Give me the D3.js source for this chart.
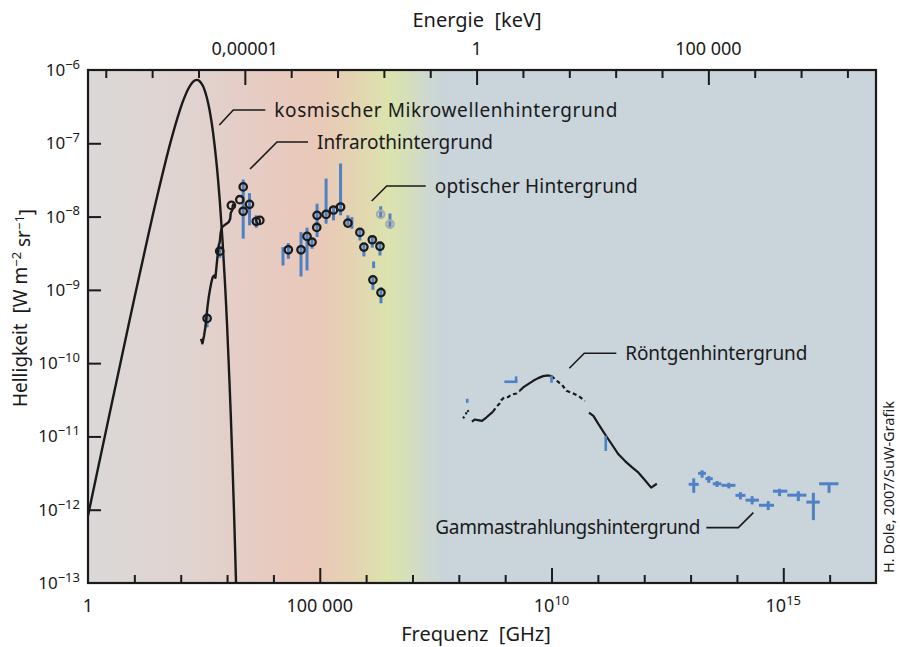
<!DOCTYPE html>
<html><head><meta charset="utf-8">
<script src="https://cdn.jsdelivr.net/npm/d3@7"></script>
<style>
body{margin:0;background:#fff}
text{font-family:"Noto Sans","Open Sans",sans-serif;fill:#1a1a1a}
</style>
</head><body>
<svg id="chart" width="900" height="647"></svg>
<script>
// ---------------- DATA ----------------
// Cosmic microwave background
const cmbFreq   = [1,2,3,5,10,20,30,60,100,120,150,175,200,225,250,300,350,400,450,500,600,700,800,900,1000,1200,1400,1550,1570];
const cmbBright = [8.30e-13,6.58e-12,2.20e-11,1.00e-10,7.66e-10,5.59e-9,1.72e-8,1.02e-7,3.06e-7,4.20e-7,5.73e-7,6.65e-7,7.19e-7,7.34e-7,7.15e-7,6.10e-7,4.67e-7,3.30e-7,2.19e-7,1.385e-7,4.94e-8,1.57e-8,4.61e-9,1.27e-9,3.34e-10,2.04e-11,1.12e-12,1.2e-13,8.9e-14];

// Infrared: continuous spectrum line
const irLineFreq   = [275,294,319,340,358,377,402,431,459,490,526,561,590,620,661,695,731,783,923,1090,1170,1200,1290,1330,1380];
const irLineBright = [2.14e-10,1.86e-10,2.37e-10,3.08e-10,4.22e-10,5.78e-10,7.92e-10,1.03e-9,1.27e-9,1.49e-9,1.57e-9,1.46e-9,2.04e-9,2.79e-9,4.04e-9,4.48e-9,6.14e-9,7.18e-9,7.82e-9,8.41e-9,9.35e-9,1.12e-8,1.22e-8,1.42e-8,1.50e-8];

// Infrared / optical measurements (null = no marker / no bar)
const irFreq   = [3.71e2,6.95e2,1.24e3,1.88e3,2.23e3,2.23e3,3.05e3,4.27e3,5.10e3,1.61e4,2.10e4,3.94e4,5.31e4,6.81e4,8.61e4,8.75e4,1.37e5,1.98e5,2.81e5,4.04e5,4.93e5,7.34e5,8.95e5,1.36e6,1.45e6,1.40e6,1.99e6,2.09e6];
const irBright = [4.08e-10,3.37e-9,1.42e-8,1.70e-8,2.54e-8,1.18e-8,1.47e-8,8.59e-9,8.87e-9,null,3.52e-9,3.52e-9,5.36e-9,4.48e-9,7.11e-9,1.04e-8,1.07e-8,1.23e-8,1.35e-8,8.15e-9,null,6.08e-9,3.83e-9,4.83e-9,null,1.37e-9,3.94e-9,9.18e-10];
const irLow    = [3.08e-10,2.74e-9,null,null,4.99e-9,null,7.59e-9,7.05e-9,null,2.15e-9,2.65e-9,1.52e-9,1.84e-9,3.64e-9,null,5.25e-9,8.00e-9,8.87e-9,1.04e-8,7.59e-9,6.82e-9,4.72e-9,2.86e-9,3.76e-9,1.98e-9,1.00e-9,2.94e-9,6.56e-10];
const irHigh   = [4.74e-10,3.91e-9,null,null,3.20e-8,null,2.09e-8,1.04e-8,null,3.83e-9,4.34e-9,6.14e-9,7.05e-9,4.99e-9,null,1.50e-8,3.30e-8,1.35e-8,5.30e-8,1.04e-8,9.84e-9,6.82e-9,4.26e-9,5.53e-9,2.44e-9,1.49e-9,4.48e-9,1.09e-9];

// Optical (grey markers)
const optFreq   = [2.06e6,3.27e6];
const optBright = [1.07e-8,7.89e-9];
const optLow    = [9.84e-9,6.82e-9];
const optHigh   = [1.38e-8,1.10e-8];

// X-ray background spectrum, pieces (solid / dashed)
const xraySegStyle = ["dot","solid","dash","solid","dash","solid"];
const xraySegFreq = [
  [1.23e8,1.38e8,1.52e8,1.71e8],
  [1.92e8,2.19e8,2.59e8,3.16e8,3.92e8,5.47e8],
  [5.47e8,6.46e8,7.60e8,8.28e8,9.46e8,1.19e9,1.32e9,1.75e9,2.06e9],
  [2.06e9,2.44e9,3.13e9,4.02e9,5.15e9,6.61e9,8.49e9,1.00e10],
  [1.00e10,1.18e10,1.44e10,1.64e10,2.11e10,2.95e10,3.78e10,5.26e10],
  [6.41e10,8.00e10,1.03e11,1.43e11,1.99e11,2.78e11,3.86e11,5.40e11,7.53e11,1.04e12,1.41e12,1.87e12]
];
const xraySegBright = [
  [1.77e-11,1.91e-11,2.30e-11,2.05e-11],
  [1.59e-11,1.70e-11,1.67e-11,1.63e-11,1.81e-11,2.18e-11],
  [2.18e-11,2.54e-11,2.81e-11,3.13e-11,3.40e-11,3.47e-11,3.70e-11,3.85e-11,4.19e-11],
  [4.19e-11,4.66e-11,5.18e-11,5.74e-11,6.25e-11,6.65e-11,6.79e-11,6.65e-11],
  [6.65e-11,6.05e-11,5.45e-11,5.18e-11,4.19e-11,3.85e-11,3.58e-11,3.06e-11],
  [2.12e-11,1.91e-11,1.47e-11,1.07e-11,7.82e-12,5.70e-12,4.61e-12,3.82e-12,3.20e-12,2.52e-12,2.00e-12,2.26e-12]
];
// X-ray error bars (blue)
const xrayBarFreq = [1.52e8,1.72e9,1.00e10,1.48e11];
const xrayBarLow  = [2.87e-11,5.57e-11,5.40e-11,6.34e-12];
const xrayBarHigh = [3.26e-11,6.60e-11,6.73e-11,1.02e-11];
const xrayHBarFreqLo = [9.62e8];
const xrayHBarFreqHi = [1.84e9];
const xrayHBarBright = [5.57e-11];

// Gamma-ray background (crosses)
const gammaFreq   = [1.17e13,1.77e13,2.47e13,3.72e13,6.68e13,1.19e14,2.13e14,4.73e14,8.32e14,2.11e15,4.46e15,9.71e15];
const gammaBright = [2.22e-12,3.14e-12,2.65e-12,2.26e-12,2.15e-12,1.57e-12,1.35e-12,1.15e-12,1.79e-12,1.58e-12,1.27e-12,2.26e-12];
const gammaFreqLo = [9.09e12,1.45e13,2.08e13,3.01e13,4.62e13,9.29e13,1.53e14,2.98e14,5.98e14,1.22e15,3.15e15,5.93e15];
const gammaFreqHi = [1.50e13,2.15e13,3.01e13,4.62e13,9.29e13,1.53e14,2.98e14,6.30e14,1.22e15,3.15e15,6.11e15,1.55e16];
const gammaLo     = [1.70e-12,2.73e-12,2.33e-12,2.04e-12,1.95e-12,1.38e-12,1.18e-12,9.89e-13,1.53e-12,1.31e-12,7.21e-13,1.70e-12];
const gammaHi     = [2.68e-12,3.45e-12,2.88e-12,2.46e-12,2.33e-12,1.74e-12,1.53e-12,1.31e-12,1.93e-12,1.79e-12,1.70e-12,2.26e-12];

// Annotations (anchor point in data units)
const annLabels = ["kosmischer Mikrowellenhintergrund","Infrarothintergrund","optischer Hintergrund","Röntgenhintergrund","Gammastrahlungshintergrund"];
const annFreq   = [6.81e2,3.13e3,1.32e6,2.42e10,2.26e14];
const annBright = [1.78e-7,4.46e-8,1.63e-8,8.51e-11,9.12e-13];

// Axis ticks / labels
const yTickValues = [1e-6,1e-7,1e-8,1e-9,1e-10,1e-11,1e-12,1e-13];
const yTickExp    = ["−6","−7","−8","−9","−10","−11","−12","−13"];
const freqMinorTicks = [1e1,1e2,1e3,1e4,1e6,1e7,1e8,1e9,1e11,1e12,1e13,1e14,1e16];
const freqMajorTicks = [1,1e5,1e10,1e15];
const freqTickBase = ["1","100 000","10","10"];
const freqTickExp  = ["","","10","15"];
const energyMinorTicks = [1e-8,1e-7,1e-6,1e-4,1e-3,1e-2,1e-1,1e1,1e2,1e3,1e4,1e6,1e7,1e8];
const energyMajorTicks = [1e-5,1,1e5];
const energyTickLabels = ["0,00001","1","100 000"];
const keVperGHz = 4.1357e-9; // h in keV per GHz

// ---------------- LAYOUT ----------------
const L=88, R=876, T=70, B=583;
const svg = d3.select("#chart");
const x  = d3.scaleLog().domain([1,1e17]).range([L,R]);
const y  = d3.scaleLog().domain([1e-13,1e-6]).range([B,T]);
const xE = d3.scaleLog().domain([1*keVperGHz,1e17*keVperGHz]).range([L,R]);

const defs = svg.append("defs");
const grad = defs.append("linearGradient").attr("id","bg").attr("gradientUnits","userSpaceOnUse")
  .attr("x1",L).attr("x2",R).attr("y1",0).attr("y2",0);
const stops = [[88,"#dbd8d8"],[190,"#e0d3d0"],[280,"#e8cabf"],[320,"#e9c9b8"],[350,"#e5d2b3"],[388,"#dbe3ae"],[408,"#d5dfba"],[430,"#cdd7d2"],[448,"#c9d4db"],[876,"#c9d4db"]];
stops.forEach(s=>grad.append("stop").attr("offset",((s[0]-L)/(R-L))).attr("stop-color",s[1]));
defs.append("clipPath").attr("id","clip").append("rect").attr("x",L).attr("y",T).attr("width",R-L).attr("height",B-T);

svg.append("rect").attr("x",L).attr("y",T).attr("width",R-L).attr("height",B-T).attr("fill","url(#bg)");

const g = svg.append("g").attr("clip-path","url(#clip)");
const blue = "#4f82c4", ink = "#1a1a1a";

const line = d3.line().x(d=>x(d[0])).y(d=>y(d[1]));

// CMB
g.append("path").datum(d3.zip(cmbFreq,cmbBright)).attr("d",line.curve(d3.curveCatmullRom))
  .attr("fill","none").attr("stroke",ink).attr("stroke-width",2.4);
line.curve(d3.curveLinear);

// IR error bars
const irBars = d3.range(irFreq.length).filter(i=>irLow[i]!=null);
g.selectAll(".irbar").data(irBars).join("line")
  .attr("x1",i=>x(irFreq[i])).attr("x2",i=>x(irFreq[i]))
  .attr("y1",i=>y(irLow[i])).attr("y2",i=>y(irHigh[i]))
  .attr("stroke",blue).attr("stroke-width",3);
g.selectAll(".optbar").data(d3.range(optFreq.length)).join("line")
  .attr("x1",i=>x(optFreq[i])).attr("x2",i=>x(optFreq[i]))
  .attr("y1",i=>y(optLow[i])).attr("y2",i=>y(optHigh[i]))
  .attr("stroke",blue).attr("stroke-width",3);

// IR spectrum line
g.append("path").datum(d3.zip(irLineFreq,irLineBright)).attr("d",line)
  .attr("fill","none").attr("stroke",ink).attr("stroke-width",2.4).attr("stroke-linejoin","round");

// IR markers
const irPts = d3.range(irFreq.length).filter(i=>irBright[i]!=null);
g.selectAll(".irpt").data(irPts).join("circle")
  .attr("cx",i=>x(irFreq[i])).attr("cy",i=>y(irBright[i])).attr("r",3.7)
  .attr("fill","none").attr("stroke",ink).attr("stroke-width",2.3);
g.selectAll(".optpt").data(d3.range(optFreq.length)).join("circle")
  .attr("cx",i=>x(optFreq[i])).attr("cy",i=>y(optBright[i])).attr("r",3.7)
  .attr("fill","none").attr("stroke","#a8abad").attr("stroke-width",2.3);

// X-ray
const dashes = {solid:null, dash:"4,3", dot:"2,3"};
xraySegFreq.forEach((fs,k)=>{
  g.append("path").datum(d3.zip(fs,xraySegBright[k])).attr("d",line)
    .attr("fill","none").attr("stroke",ink).attr("stroke-width",2.2)
    .attr("stroke-linejoin","round").attr("stroke-dasharray",dashes[xraySegStyle[k]]);
});
g.selectAll(".xbar").data(d3.range(xrayBarFreq.length)).join("line")
  .attr("x1",i=>x(xrayBarFreq[i])).attr("x2",i=>x(xrayBarFreq[i]))
  .attr("y1",i=>y(xrayBarLow[i])).attr("y2",i=>y(xrayBarHigh[i]))
  .attr("stroke",blue).attr("stroke-width",2.6);
g.selectAll(".xhbar").data(d3.range(xrayHBarFreqLo.length)).join("line")
  .attr("x1",i=>x(xrayHBarFreqLo[i])).attr("x2",i=>x(xrayHBarFreqHi[i]))
  .attr("y1",i=>y(xrayHBarBright[i])).attr("y2",i=>y(xrayHBarBright[i]))
  .attr("stroke",blue).attr("stroke-width",2.6);

// Gamma crosses
const gi = d3.range(gammaFreq.length);
g.selectAll(".gh").data(gi).join("line")
  .attr("x1",i=>x(gammaFreqLo[i])).attr("x2",i=>x(gammaFreqHi[i]))
  .attr("y1",i=>y(gammaBright[i])).attr("y2",i=>y(gammaBright[i]))
  .attr("stroke",blue).attr("stroke-width",3);
g.selectAll(".gv").data(gi).join("line")
  .attr("x1",i=>x(gammaFreq[i])).attr("x2",i=>x(gammaFreq[i]))
  .attr("y1",i=>y(gammaLo[i])).attr("y2",i=>y(gammaHi[i]))
  .attr("stroke",blue).attr("stroke-width",3);

// Annotations
const annLayout = [
  {dx1:14,dy1:-15,dx2:46,tx:55,anchor:"start",w:343},
  {dx1:27,dy1:-27,dx2:58,tx:67,anchor:"start",w:176},
  {dx1:15,dy1:-15,dx2:54,tx:63,anchor:"start",w:203},
  {dx1:15,dy1:-15,dx2:47,tx:56,anchor:"start",w:182},
  {dx1:-15,dy1:15,dx2:-47,tx:-53,anchor:"end",w:265}
];
annLabels.forEach((t,i)=>{
  const px=x(annFreq[i]), py=y(annBright[i]), a=annLayout[i];
  svg.append("path").attr("d",`M${px},${py}L${px+a.dx1},${py+a.dy1}L${px+a.dx2},${py+a.dy1}`)
    .attr("fill","none").attr("stroke",ink).attr("stroke-width",1.6);
  svg.append("text").attr("x",px+a.tx).attr("y",py+a.dy1).attr("dy","0.35em")
    .attr("text-anchor",a.anchor).attr("font-size",19)
    .attr("textLength",a.w).attr("lengthAdjust","spacing").text(t);
});

// Axes: ticks
function ticks(sel, axis){ sel.call(axis); sel.select(".domain").remove(); sel.selectAll(".tick line").attr("stroke",ink).attr("stroke-width",2); sel.selectAll(".tick text").remove(); }
ticks(svg.append("g").attr("transform",`translate(0,${B})`), d3.axisBottom(x).tickValues(freqMinorTicks).tickSizeInner(-8).tickSizeOuter(0));
ticks(svg.append("g").attr("transform",`translate(0,${B})`), d3.axisBottom(x).tickValues(freqMajorTicks.slice(1)).tickSizeInner(-15).tickSizeOuter(0));
ticks(svg.append("g").attr("transform",`translate(0,${T})`), d3.axisTop(xE).tickValues(energyMinorTicks).tickSizeInner(-8).tickSizeOuter(0));
ticks(svg.append("g").attr("transform",`translate(0,${T})`), d3.axisTop(xE).tickValues(energyMajorTicks).tickSizeInner(-15).tickSizeOuter(0));
ticks(svg.append("g").attr("transform",`translate(${L},0)`), d3.axisLeft(y).tickValues(yTickValues.slice(1,-1)).tickSizeInner(-13).tickSizeOuter(0));

// Frame
svg.append("rect").attr("x",L).attr("y",T).attr("width",R-L).attr("height",B-T)
  .attr("fill","none").attr("stroke",ink).attr("stroke-width",2.2);

// Tick labels
yTickValues.forEach((v,i)=>{
  const t = svg.append("text").attr("x",L-8).attr("y",y(v)).attr("dy","0.35em").attr("text-anchor","end").attr("font-size",17);
  t.append("tspan").text("10");
  t.append("tspan").attr("dy","-0.55em").attr("font-size",13).text(yTickExp[i]);
});
freqMajorTicks.forEach((v,i)=>{
  const t = svg.append("text").attr("x",x(v)).attr("y",612).attr("text-anchor","middle").attr("font-size",18);
  t.append("tspan").text(freqTickBase[i]);
  if(freqTickExp[i]) t.append("tspan").attr("dy","-0.55em").attr("font-size",13).text(freqTickExp[i]);
});
energyMajorTicks.forEach((v,i)=>{
  svg.append("text").attr("x",xE(v)).attr("y",55).attr("text-anchor","middle").attr("font-size",18).text(energyTickLabels[i]);
});

// Axis titles
svg.append("text").attr("x",477).attr("y",27).attr("text-anchor","middle").attr("font-size",20).attr("xml:space","preserve").text("Energie  [keV]");
svg.append("text").attr("x",476).attr("y",641).attr("text-anchor","middle").attr("font-size",20).attr("xml:space","preserve").text("Frequenz  [GHz]");
const yl = svg.append("text").attr("transform","translate(27,308) rotate(-90)").attr("text-anchor","middle").attr("font-size",19).attr("xml:space","preserve");
yl.append("tspan").text("Helligkeit  [W m");
yl.append("tspan").attr("dy","-0.5em").attr("font-size",13).text("−2");
yl.append("tspan").attr("dy","0.5em").text(" sr");
yl.append("tspan").attr("dy","-0.5em").attr("font-size",13).text("−1");
yl.append("tspan").attr("dy","0.5em").text("]");

svg.append("text").attr("transform","translate(894,487) rotate(-90)").attr("text-anchor","middle").attr("font-size",14.5).text("H. Dole, 2007/SuW-Grafik");
</script>
</body></html>
